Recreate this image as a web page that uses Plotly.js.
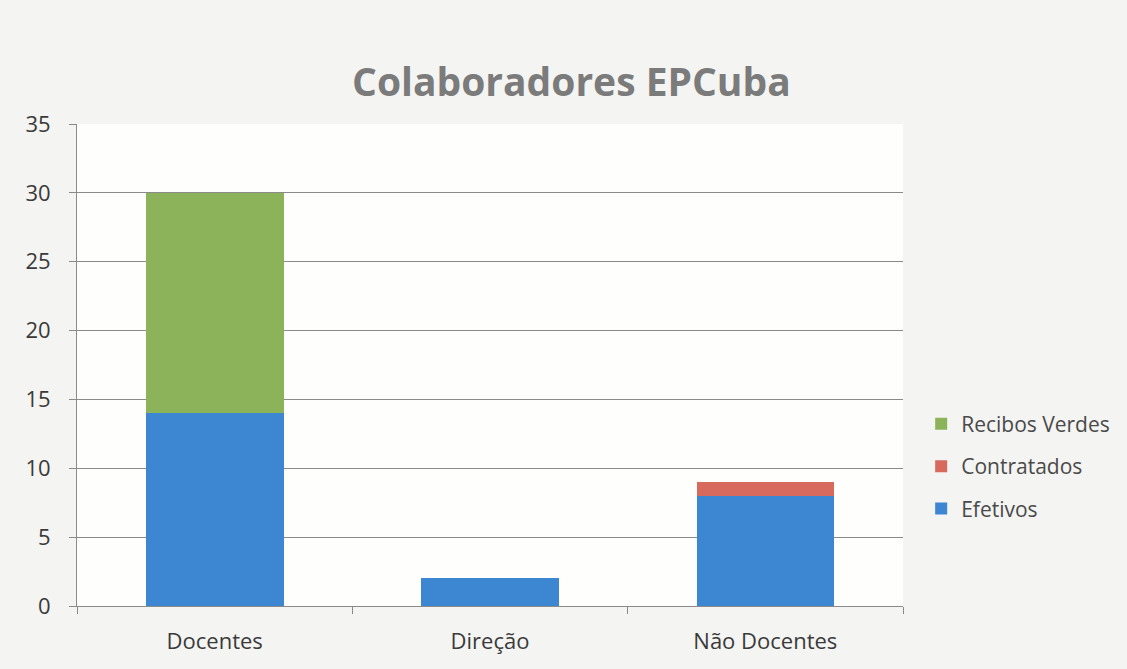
<!DOCTYPE html>
<html>
<head>
<meta charset="utf-8">
<script src="https://cdn.plot.ly/plotly-3.0.1.min.js"></script>
<style>html,body{margin:0;padding:0;background:#f3f3f1;}#chart{width:1127px;height:669px;}</style>
</head>
<body>
<div id="chart"></div>
<script>
const categories = ["Docentes", "Direção", "Não Docentes"];
const efetivos = [14, 2, 8];
const contratados = [0, 0, 1];
const recibosVerdes = [16, 0, 0];
const yTicks = [0, 5, 10, 15, 20, 25, 30, 35];

const font = "Open Sans, Noto Sans, Liberation Sans, sans-serif";
const traces = [
  {type: "bar", name: "Efetivos", x: categories, y: efetivos, marker: {color: "#3c86d2"}, legendgroup: "a", legendrank: 3},
  {type: "bar", name: "Contratados", x: categories, y: contratados, marker: {color: "#d76a5c"}, legendgroup: "b", legendrank: 2},
  {type: "bar", name: "Recibos Verdes", x: categories, y: recibosVerdes, marker: {color: "#8cb35a"}, legendgroup: "c", legendrank: 1}
];
const layout = {
  width: 1127, height: 669,
  margin: {l: 77, r: 224, t: 124, b: 63, autoexpand: false},
  paper_bgcolor: "#f4f4f2",
  plot_bgcolor: "#fefefc",
  barmode: "stack",
  bargap: 0.5,
  title: {text: "<b>Colaboradores EPCuba</b>", x: 0.507, xanchor: "center", y: 0.877, yanchor: "middle",
          font: {family: font, size: 39, color: "#7b7b7b"}},
  xaxis: {
    showline: true, linecolor: "#8a8a8a", linewidth: 1,
    ticks: "outside", tickson: "boundaries", ticklen: 7, tickcolor: "#8a8a8a",
    tickfont: {family: font, size: 22, color: "#3a3a3a"},
    ticklabelstandoff: 16,
    showgrid: false
  },
  yaxis: {
    range: [0, 35], tickvals: yTicks, ticktext: yTicks.map(String),
    showline: true, linecolor: "#8a8a8a", linewidth: 1,
    ticks: "outside", ticklen: 7, tickcolor: "#8a8a8a",
    showgrid: true, gridcolor: "#8a8a8a", gridwidth: 1,
    zeroline: false,
    tickfont: {family: font, size: 22, color: "#3a3a3a"},
    ticklabelstandoff: 14
  },
  legend: {
    x: 1.022, xanchor: "left", y: 0.29, yanchor: "middle",
    traceorder: "grouped", tracegroupgap: 12,
    font: {family: font, size: 21, color: "#4a4a4a"},
    bgcolor: "rgba(0,0,0,0)", itemwidth: 30
  },
  showlegend: true
};
Plotly.newPlot("chart", traces, layout, {displayModeBar: false, staticPlot: true});
</script>
</body>
</html>
